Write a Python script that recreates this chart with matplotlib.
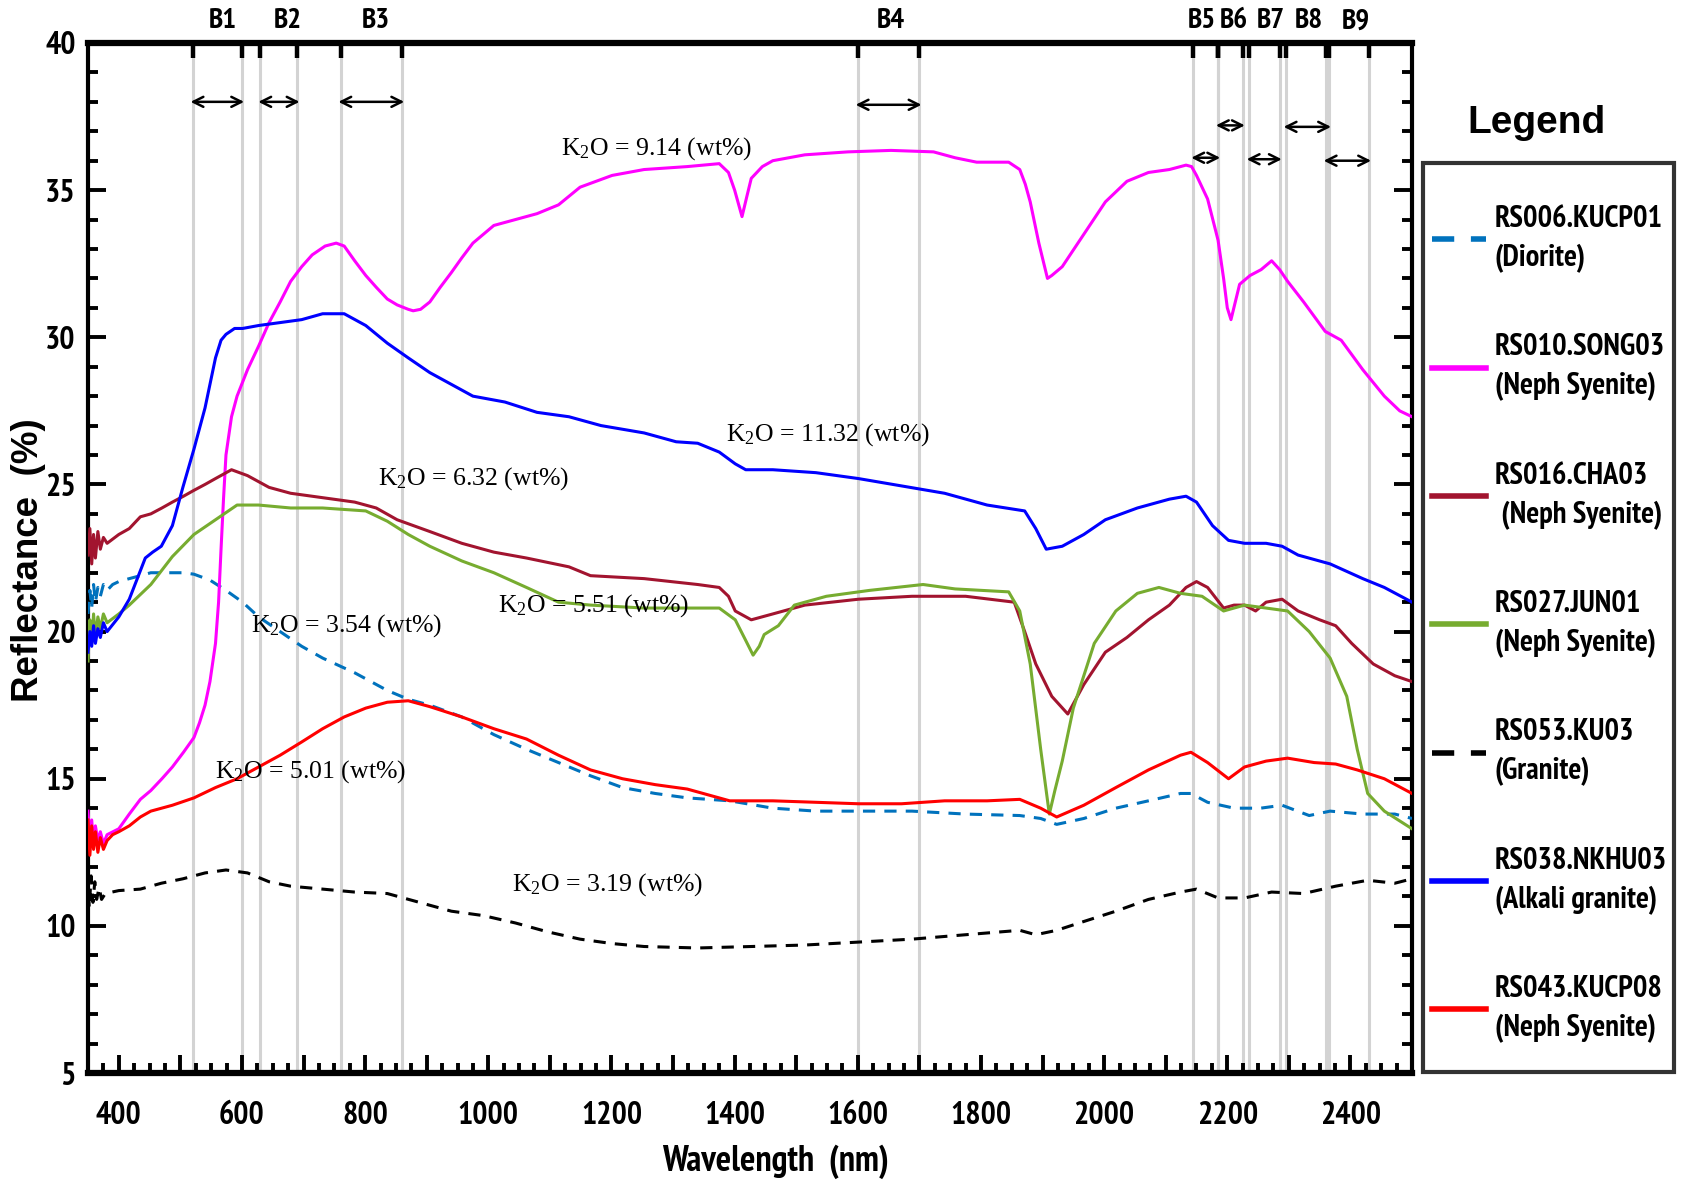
import matplotlib
matplotlib.use('Agg')
import matplotlib.pyplot as plt
from matplotlib.lines import Line2D
from matplotlib.patches import Rectangle
from matplotlib.ticker import MultipleLocator, FuncFormatter

plt.rcParams['mathtext.default'] = 'regular'
NARROW = ['PT Sans Narrow', 'DejaVu Sans']

# --- spectra (wavelength nm, reflectance %) ---
wl_kucp01 = [350, 353, 356, 359, 362, 366, 370, 375, 381, 390, 400, 417, 435, 452, 470, 487, 505, 522, 548, 574,
             601, 627, 662, 697, 731, 783, 836, 870, 905, 957, 1009, 1062, 1114, 1166, 1218, 1271, 1323, 1392, 1462,
             1532, 1601, 1688, 1775, 1863, 1897, 1923, 1967, 2019, 2072, 2124, 2141, 2168, 2211, 2254, 2289, 2333,
             2367, 2420, 2472, 2500]
r_kucp01 = [20.6, 21.4, 20.8, 21.6, 21.0, 21.5, 21.2, 21.6, 21.4, 21.6, 21.7, 21.8, 21.9, 22.0, 22.0, 22.0, 22.0, 21.95,
            21.75, 21.4, 21.0, 20.5, 20.0, 19.5, 19.1, 18.6, 18.0, 17.7, 17.5, 17.1, 16.5, 16.0, 15.55, 15.1, 14.7, 14.5,
            14.35, 14.25, 14.0, 13.9, 13.9, 13.9, 13.8, 13.75, 13.65, 13.45, 13.65, 14.0, 14.25, 14.5, 14.5, 14.2, 14.0,
            14.0, 14.1, 13.75, 13.9, 13.8, 13.8, 13.65]

wl_song03 = [350, 353, 356, 359, 362, 366, 370, 375, 381, 400, 417, 435, 452, 470, 487, 505, 522, 531, 540, 548, 557,
             562, 566, 570, 574, 583, 592, 609, 627, 644, 662, 679, 697, 714, 735, 753, 766, 783, 801, 818, 836, 852,
             870, 878, 890, 905, 922, 940, 957, 975, 992, 1009, 1044, 1079, 1114, 1149, 1201, 1253, 1323, 1375, 1390,
             1400, 1412, 1420, 1427, 1445, 1462, 1514, 1584, 1654, 1723, 1758, 1793, 1845, 1863, 1872, 1880, 1894,
             1908, 1915, 1932, 1967, 2002, 2037, 2072, 2106, 2133, 2142, 2150, 2168, 2185, 2194, 2200, 2206, 2213,
             2220, 2237, 2255, 2272, 2285, 2298, 2324, 2359, 2385, 2420, 2455, 2480, 2500]
r_song03 = [13.9, 12.9, 13.6, 12.7, 13.4, 12.9, 13.2, 12.8, 13.1, 13.3, 13.8, 14.3, 14.6, 15.0, 15.4, 15.9, 16.4, 16.9,
            17.5, 18.3, 19.6, 21.0, 22.8, 24.5, 26.0, 27.3, 28.0, 28.9, 29.7, 30.5, 31.2, 31.9, 32.4, 32.8, 33.1, 33.2,
            33.1, 32.6, 32.1, 31.7, 31.3, 31.1, 30.95, 30.9, 30.95, 31.2, 31.7, 32.2, 32.7, 33.2, 33.5, 33.8, 34.0, 34.2,
            34.5, 35.1, 35.5, 35.7, 35.8, 35.9, 35.6, 35.0, 34.1, 34.8, 35.4, 35.8, 36.0, 36.2, 36.3, 36.35, 36.3, 36.1,
            35.95, 35.95, 35.7, 35.2, 34.6, 33.2, 32.0, 32.1, 32.4, 33.5, 34.6, 35.3, 35.6, 35.7, 35.85, 35.8, 35.5,
            34.7, 33.3, 32.0, 31.0, 30.6, 31.2, 31.8, 32.1, 32.3, 32.6, 32.3, 31.9, 31.2, 30.2, 29.9, 28.9, 28.0, 27.5,
            27.3]

wl_cha03 = [350, 353, 356, 359, 362, 366, 370, 375, 381, 400, 417, 435, 452, 470, 487, 505, 522, 540, 557, 583, 609,
            644, 679, 731, 783, 818, 852, 905, 957, 1009, 1062, 1131, 1166, 1253, 1340, 1375, 1390, 1401, 1427, 1462,
            1514, 1601, 1688, 1775, 1854, 1871, 1889, 1915, 1941, 1967, 2002, 2037, 2072, 2106, 2133, 2150, 2168,
            2194, 2211, 2228, 2246, 2263, 2289, 2315, 2350, 2376, 2402, 2437, 2472, 2500]
r_cha03 = [22.6, 23.5, 22.3, 23.3, 22.5, 23.4, 22.8, 23.2, 23.0, 23.3, 23.5, 23.9, 24.0, 24.2, 24.4, 24.6, 24.8, 25.0,
           25.2, 25.5, 25.3, 24.9, 24.7, 24.55, 24.4, 24.2, 23.8, 23.4, 23.0, 22.7, 22.5, 22.2, 21.9, 21.8, 21.6, 21.5,
           21.2, 20.7, 20.4, 20.6, 20.9, 21.1, 21.2, 21.2, 21.0, 20.0, 18.9, 17.8, 17.2, 18.2, 19.3, 19.8, 20.4, 20.9,
           21.5, 21.7, 21.5, 20.8, 20.9, 20.9, 20.7, 21.0, 21.1, 20.7, 20.4, 20.2, 19.6, 18.9, 18.5, 18.3]

wl_jun01 = [350, 353, 356, 359, 362, 366, 370, 375, 381, 400, 417, 452, 487, 522, 557, 592, 627, 679, 731, 801, 836,
            870, 905, 957, 1009, 1062, 1114, 1166, 1253, 1323, 1375, 1401, 1418, 1430, 1440, 1448, 1471, 1497, 1549,
            1619, 1706, 1758, 1845, 1863, 1880, 1897, 1911, 1920, 1932, 1950, 1984, 2019, 2054, 2089, 2124, 2159,
            2194, 2228, 2263, 2298, 2333, 2367, 2394, 2411, 2428, 2455, 2500]
r_jun01 = [19.0, 20.4, 19.6, 20.6, 19.8, 20.5, 20.1, 20.6, 20.3, 20.6, 20.9, 21.6, 22.55, 23.3, 23.8, 24.3, 24.3, 24.2,
           24.2, 24.1, 23.75, 23.3, 22.9, 22.4, 22.0, 21.5, 21.0, 20.9, 20.8, 20.8, 20.8, 20.4, 19.7, 19.2, 19.5, 19.9,
           20.2, 20.9, 21.2, 21.4, 21.6, 21.45, 21.35, 20.7, 18.9, 16.0, 13.8, 14.6, 15.6, 17.4, 19.6, 20.7, 21.3, 21.5,
           21.3, 21.2, 20.7, 20.9, 20.8, 20.7, 20.0, 19.1, 17.8, 16.0, 14.5, 13.9, 13.3]

wl_ku03 = [350, 352, 355, 358, 361, 364, 368, 372, 378, 400, 435, 469, 504, 540, 574, 609, 644, 679, 731, 783, 836,
           888, 940, 992, 1044, 1096, 1149, 1201, 1253, 1340, 1427, 1514, 1601, 1688, 1775, 1863, 1889, 1923, 1967,
           2019, 2072, 2124, 2150, 2185, 2228, 2272, 2324, 2376, 2428, 2472, 2500]
r_ku03 = [11.8, 10.6, 11.7, 10.8, 11.5, 10.9, 11.3, 10.9, 11.1, 11.2, 11.25, 11.45, 11.6, 11.8, 11.9, 11.8, 11.5, 11.35,
          11.25, 11.15, 11.1, 10.8, 10.5, 10.35, 10.1, 9.8, 9.55, 9.4, 9.3, 9.25, 9.3, 9.35, 9.45, 9.55, 9.7, 9.85, 9.7,
          9.85, 10.15, 10.5, 10.9, 11.15, 11.25, 10.95, 10.95, 11.15, 11.1, 11.35, 11.55, 11.45, 11.6]

wl_nkhu03 = [350, 353, 356, 359, 362, 366, 370, 375, 381, 400, 417, 430, 443, 455, 469, 487, 504, 522, 540, 557, 566,
             574, 588, 601, 627, 662, 697, 731, 766, 801, 836, 870, 905, 940, 975, 1027, 1079, 1131, 1183, 1253, 1305,
             1340, 1375, 1401, 1418, 1462, 1532, 1601, 1671, 1741, 1810, 1871, 1889, 1906, 1932, 1967, 2002, 2054,
             2106, 2133, 2150, 2176, 2202, 2228, 2263, 2289, 2315, 2367, 2420, 2455, 2500]
r_nkhu03 = [19.3, 20.0, 19.5, 20.2, 19.6, 20.1, 19.8, 20.3, 20.0, 20.5, 21.1, 21.8, 22.5, 22.7, 22.9, 23.6, 24.9, 26.2,
            27.6, 29.3, 29.9, 30.1, 30.3, 30.3, 30.4, 30.5, 30.6, 30.8, 30.8, 30.4, 29.8, 29.3, 28.8, 28.4, 28.0, 27.8,
            27.45, 27.3, 27.0, 26.75, 26.45, 26.4, 26.1, 25.7, 25.5, 25.5, 25.4, 25.2, 24.95, 24.7, 24.3, 24.1, 23.5,
            22.8, 22.9, 23.3, 23.8, 24.2, 24.5, 24.6, 24.4, 23.6, 23.1, 23.0, 23.0, 22.9, 22.6, 22.3, 21.8, 21.5, 21.0]

wl_kucp08 = [350, 353, 356, 359, 362, 366, 370, 375, 381, 390, 400, 417, 435, 452, 487, 522, 557, 592, 627, 662, 697,
             731, 766, 801, 836, 870, 905, 957, 1009, 1062, 1114, 1166, 1218, 1271, 1323, 1392, 1462, 1532, 1601, 1671,
             1741, 1810, 1863, 1897, 1923, 1967, 2019, 2072, 2124, 2141, 2168, 2202, 2228, 2263, 2298, 2341, 2376,
             2411, 2455, 2500]
r_kucp08 = [13.6, 12.4, 13.4, 12.6, 13.2, 12.5, 13.0, 12.6, 12.9, 13.1, 13.2, 13.4, 13.7, 13.9, 14.1, 14.35, 14.7, 15.0,
            15.4, 15.8, 16.25, 16.7, 17.1, 17.4, 17.6, 17.65, 17.45, 17.1, 16.7, 16.35, 15.8, 15.3, 15.0, 14.8, 14.65,
            14.25, 14.25, 14.2, 14.15, 14.15, 14.25, 14.25, 14.3, 14.0, 13.7, 14.1, 14.7, 15.3, 15.8, 15.9, 15.55, 15.0,
            15.4, 15.6, 15.7, 15.55, 15.5, 15.3, 15.0, 14.5]

# ASTER band limits
band_names = ['B1', 'B2', 'B3', 'B4', 'B5', 'B6', 'B7', 'B8', 'B9']
band_lo = [520, 630, 760, 1600, 2145, 2185, 2235, 2295, 2360]
band_hi = [600, 690, 860, 1700, 2185, 2225, 2285, 2365, 2430]
band_label_x = [569, 675, 818, 1654, 2159, 2211, 2271, 2333, 2408]
arrow_y = [38.0, 38.0, 38.0, 37.9, 36.1, 37.2, 36.05, 37.15, 36.0]

k2o_text = ['9.14', '11.32', '6.32', '5.51', '3.54', '5.01', '3.19']
k2o_x = [1118, 1386, 821, 1015, 614, 557, 1039]
k2o_y = [36.4, 26.7, 25.2, 20.9, 20.2, 15.25, 11.4]

fig = plt.figure(figsize=(16.83, 11.84), dpi=100)
ax = fig.add_axes([0.0523, 0.0937, 0.7867, 0.870])

for lo, hi in zip(band_lo, band_hi):
    ax.axvline(lo, color='#d3d3d3', lw=2.2, zorder=1)
    ax.axvline(hi, color='#d3d3d3', lw=2.2, zorder=1)

dash = (0, (4, 3))
series = [
    (wl_kucp01, r_kucp01, '#0072BD', dash, 'RS006.KUCP01\n(Diorite)'),
    (wl_song03, r_song03, '#FF00FF', '-', 'RS010.SONG03\n(Neph Syenite)'),
    (wl_cha03, r_cha03, '#A2142F', '-', 'RS016.CHA03\n (Neph Syenite)'),
    (wl_jun01, r_jun01, '#77AC30', '-', 'RS027.JUN01\n(Neph Syenite)'),
    (wl_ku03, r_ku03, 'black', dash, 'RS053.KU03\n(Granite)'),
    (wl_nkhu03, r_nkhu03, '#0000FF', '-', 'RS038.NKHU03\n(Alkali granite)'),
    (wl_kucp08, r_kucp08, '#FF0000', '-', 'RS043.KUCP08\n(Neph Syenite)'),
]
handles = []
for x, y, c, ls, lab in series:
    ax.plot(x, y, color=c, ls=ls, lw=2.2, zorder=3)
    handles.append(Line2D([], [], color=c, ls=ls, lw=4, label=lab))

for lo, hi, ya in zip(band_lo, band_hi, arrow_y):
    ax.annotate('', xy=(hi + 8, ya), xytext=(lo - 8, ya),
                arrowprops=dict(arrowstyle='<->', lw=1.8, color='black', mutation_scale=18), zorder=4)

for name, bx in zip(band_names, band_label_x):
    ax.text(bx, 1.021, name, transform=ax.get_xaxis_transform(), ha='center', va='center',
            fontsize=21, family=NARROW, fontweight='bold')

for t, tx, ty in zip(k2o_text, k2o_x, k2o_y):
    ax.text(tx, ty, 'K$_2$O = ' + t + ' (wt%)', fontsize=18.5, family='Liberation Serif',
            ha='left', va='center', zorder=5)

ax.set_xlim(350, 2500)
ax.set_ylim(5, 40)
ax.xaxis.set_major_locator(MultipleLocator(100))
ax.xaxis.set_minor_locator(MultipleLocator(25))
ax.xaxis.set_major_formatter(FuncFormatter(lambda v, p: f'{int(v)}' if v % 200 == 0 else ''))
ax.yaxis.set_major_locator(MultipleLocator(5))
ax.yaxis.set_minor_locator(MultipleLocator(1))
ax.tick_params(which='both', direction='in', top=False, right=True, width=2.8)
ax.tick_params(which='major', length=13)
ax.tick_params(which='minor', length=7)
ax.tick_params(axis='x', which='major', pad=20)
ax.tick_params(axis='y', which='major', pad=9)
for lab in ax.get_xticklabels() + ax.get_yticklabels():
    lab.set_family(NARROW)
    lab.set_fontweight('bold')
    lab.set_fontsize(23)
for s in ax.spines.values():
    s.set_linewidth(3)
ax.spines['top'].set_linewidth(4.5)
ax.spines['bottom'].set_linewidth(4.5)

# band edge ticks on the top axis
ax.vlines(band_lo + band_hi, 0.985, 1.0, transform=ax.get_xaxis_transform(), colors='black',
          lw=3.2, clip_on=False, zorder=6)

fig.text(0.017, 0.527, 'Reflectance  (%)', rotation=90, ha='center', va='center',
         fontsize=26.5, fontweight='bold', family='Liberation Sans')
fig.text(0.4605, 0.0186, 'Wavelength  (nm)', ha='center', va='center',
         fontsize=26, fontweight='bold', family=NARROW)

fig.text(0.913, 0.896, 'Legend', ha='center', va='center', fontsize=28, fontweight='heavy',
         family='Liberation Sans')
fig.patches.append(Rectangle((0.8455, 0.0946), 0.149, 0.7677, transform=fig.transFigure,
                             fill=False, ec='#333333', lw=3))
leg = fig.legend(handles=handles, loc='upper left', bbox_to_anchor=(0.851, 0.827), frameon=False,
                 prop=dict(family=NARROW, weight='bold', size=22), handlelength=1.75,
                 handletextpad=0.3, labelspacing=1.97, borderaxespad=0, borderpad=0)
for t in leg.get_texts():
    t.set_linespacing(1.5)

fig.savefig('out.png', dpi=100)
